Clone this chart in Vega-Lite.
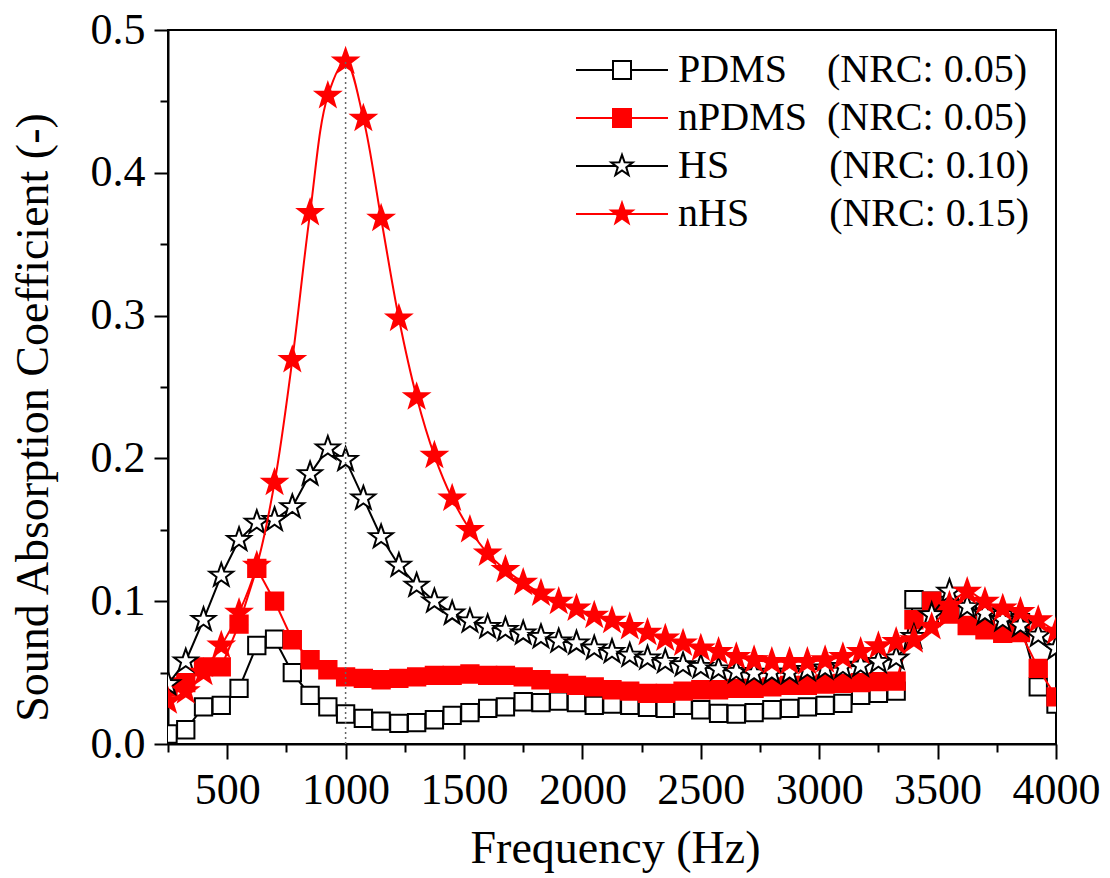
{
  "$schema": "https://vega.github.io/schema/vega-lite/v6.json",
  "width": 888,
  "height": 714,
  "autosize": {"type": "none"},
  "padding": {"left": 168, "top": 30, "right": 54, "bottom": 134},
  "background": "white",
  "config": {
    "view": {"stroke": "black", "strokeWidth": 2},
    "font": "Liberation Serif",
    "axis": {
      "domainColor": "black", "domainWidth": 2, "tickColor": "black", "tickWidth": 2,
      "labelColor": "black", "titleColor": "black",
      "labelFont": "Liberation Serif", "titleFont": "Liberation Serif",
      "labelFontSize": 44, "titleFontSize": 46, "titleFontWeight": "normal",
      "grid": false, "labelOverlap": false, "labelFlush": false
    },
    "legend": {
      "title": null, "orient": "none", "legendX": 434, "legendY": 20,
      "labelFont": "Liberation Serif", "labelFontSize": 40, "labelColor": "black",
      "labelLimit": 0, "labelOffset": 36, "rowPadding": 8, "padding": 0,
      "symbolSize": 400, "symbolStrokeWidth": 2
    }
  },
  "resolve": {"scale": {"shape": "independent", "fill": "independent", "stroke": "independent"}},
  "layer": [
    {
      "data": {"values": [
        {"f":250,"PDMS":0.007,"nPDMS":0.040,"HS":0.042,"nHS":0.030},
        {"f":325,"PDMS":0.010,"nPDMS":0.043,"HS":0.058,"nHS":0.037},
        {"f":400,"PDMS":0.026,"nPDMS":0.054,"HS":0.087,"nHS":0.050},
        {"f":475,"PDMS":0.027,"nPDMS":0.054,"HS":0.118,"nHS":0.069},
        {"f":550,"PDMS":0.039,"nPDMS":0.084,"HS":0.143,"nHS":0.092},
        {"f":625,"PDMS":0.069,"nPDMS":0.123,"HS":0.155,"nHS":0.125},
        {"f":700,"PDMS":0.0735,"nPDMS":0.100,"HS":0.157,"nHS":0.183},
        {"f":775,"PDMS":0.050,"nPDMS":0.073,"HS":0.166,"nHS":0.269},
        {"f":850,"PDMS":0.034,"nPDMS":0.059,"HS":0.189,"nHS":0.372},
        {"f":925,"PDMS":0.026,"nPDMS":0.052,"HS":0.207,"nHS":0.454},
        {"f":1000,"PDMS":0.021,"nPDMS":0.047,"HS":0.199,"nHS":0.478},
        {"f":1075,"PDMS":0.018,"nPDMS":0.046,"HS":0.172,"nHS":0.438},
        {"f":1150,"PDMS":0.016,"nPDMS":0.045,"HS":0.145,"nHS":0.368},
        {"f":1225,"PDMS":0.0145,"nPDMS":0.046,"HS":0.125,"nHS":0.298},
        {"f":1300,"PDMS":0.015,"nPDMS":0.047,"HS":0.111,"nHS":0.243},
        {"f":1375,"PDMS":0.017,"nPDMS":0.048,"HS":0.100,"nHS":0.202},
        {"f":1450,"PDMS":0.020,"nPDMS":0.048,"HS":0.0915,"nHS":0.172},
        {"f":1525,"PDMS":0.022,"nPDMS":0.049,"HS":0.086,"nHS":0.150},
        {"f":1600,"PDMS":0.025,"nPDMS":0.048,"HS":0.082,"nHS":0.1335},
        {"f":1675,"PDMS":0.026,"nPDMS":0.048,"HS":0.080,"nHS":0.122},
        {"f":1750,"PDMS":0.0296,"nPDMS":0.047,"HS":0.0775,"nHS":0.113},
        {"f":1825,"PDMS":0.029,"nPDMS":0.045,"HS":0.075,"nHS":0.1055},
        {"f":1900,"PDMS":0.030,"nPDMS":0.0425,"HS":0.072,"nHS":0.0997},
        {"f":1975,"PDMS":0.029,"nPDMS":0.041,"HS":0.0705,"nHS":0.095},
        {"f":2050,"PDMS":0.027,"nPDMS":0.040,"HS":0.067,"nHS":0.090},
        {"f":2125,"PDMS":0.028,"nPDMS":0.038,"HS":0.0646,"nHS":0.0864},
        {"f":2200,"PDMS":0.027,"nPDMS":0.037,"HS":0.062,"nHS":0.082},
        {"f":2275,"PDMS":0.0257,"nPDMS":0.0355,"HS":0.060,"nHS":0.078},
        {"f":2350,"PDMS":0.025,"nPDMS":0.0355,"HS":0.0576,"nHS":0.074},
        {"f":2425,"PDMS":0.027,"nPDMS":0.037,"HS":0.0553,"nHS":0.0705},
        {"f":2500,"PDMS":0.024,"nPDMS":0.038,"HS":0.054,"nHS":0.067},
        {"f":2575,"PDMS":0.0215,"nPDMS":0.038,"HS":0.0523,"nHS":0.0646},
        {"f":2650,"PDMS":0.021,"nPDMS":0.039,"HS":0.0506,"nHS":0.061},
        {"f":2725,"PDMS":0.022,"nPDMS":0.039,"HS":0.0495,"nHS":0.0588},
        {"f":2800,"PDMS":0.024,"nPDMS":0.040,"HS":0.050,"nHS":0.0576},
        {"f":2875,"PDMS":0.025,"nPDMS":0.041,"HS":0.050,"nHS":0.0576},
        {"f":2950,"PDMS":0.026,"nPDMS":0.041,"HS":0.052,"nHS":0.0576},
        {"f":3025,"PDMS":0.027,"nPDMS":0.042,"HS":0.053,"nHS":0.0588},
        {"f":3100,"PDMS":0.0285,"nPDMS":0.0425,"HS":0.054,"nHS":0.061},
        {"f":3175,"PDMS":0.034,"nPDMS":0.043,"HS":0.055,"nHS":0.0646},
        {"f":3250,"PDMS":0.0355,"nPDMS":0.0437,"HS":0.0576,"nHS":0.0686},
        {"f":3325,"PDMS":0.037,"nPDMS":0.044,"HS":0.060,"nHS":0.0716},
        {"f":3400,"PDMS":0.101,"nPDMS":0.087,"HS":0.075,"nHS":0.0728},
        {"f":3475,"PDMS":0.100,"nPDMS":0.100,"HS":0.0903,"nHS":0.082},
        {"f":3550,"PDMS":0.097,"nPDMS":0.091,"HS":0.1067,"nHS":0.097},
        {"f":3625,"PDMS":0.092,"nPDMS":0.083,"HS":0.096,"nHS":0.1067},
        {"f":3700,"PDMS":0.089,"nPDMS":0.080,"HS":0.0915,"nHS":0.0997},
        {"f":3775,"PDMS":0.087,"nPDMS":0.0775,"HS":0.0868,"nHS":0.095},
        {"f":3850,"PDMS":0.085,"nPDMS":0.078,"HS":0.083,"nHS":0.0926},
        {"f":3925,"PDMS":0.040,"nPDMS":0.053,"HS":0.076,"nHS":0.0868},
        {"f":4000,"PDMS":0.028,"nPDMS":0.033,"HS":0.067,"nHS":0.0787}
      ]},
      "transform": [{"fold": ["PDMS", "nPDMS", "HS", "nHS"], "as": ["s", "v"]}],
      "encoding": {
        "x": {
          "field": "f", "type": "quantitative",
          "scale": {"domain": [250, 4000], "nice": false, "zero": false},
          "axis": {
            "title": "Frequency (Hz)",
            "values": [250,500,750,1000,1250,1500,1750,2000,2250,2500,2750,3000,3250,3500,3750,4000],
            "labelExpr": "datum.value % 500 == 0 ? format(datum.value, 'd') : ''",
            "tickSize": {"condition": {"test": "datum.value % 500 == 0", "value": 15}, "value": 8},
            "labelPadding": 9,
            "titleX": 447, "titleY": 118, "titleBaseline": "alphabetic"
          }
        },
        "y": {
          "field": "v", "type": "quantitative",
          "scale": {"domain": [0, 0.5], "nice": false},
          "axis": {
            "title": "Sound Absorption Coefficient (-)",
            "values": [0,0.05,0.1,0.15,0.2,0.25,0.3,0.35,0.4,0.45,0.5],
            "labelExpr": "round(datum.value*20) % 2 == 0 ? format(datum.value, '.1f') : ''",
            "tickSize": {"condition": {"test": "round(datum.value*20) % 2 == 0", "value": 14}, "value": 8},
            "labelPadding": 9,
            "titleX": -121, "titleY": 387, "titleBaseline": "alphabetic"
          }
        }
      },
      "layer": [
        {
          "transform": [{"filter": "datum.s == 'PDMS'"}],
          "mark": {"type": "line", "stroke": "black", "strokeWidth": 2, "clip": true}
        },
        {
          "transform": [{"filter": "datum.s == 'PDMS'"}],
          "mark": {"type": "point", "size": 300, "strokeWidth": 2, "opacity": 1, "clip": true},
          "encoding": {
            "shape": {"field": "s", "type": "nominal", "legend": null, "scale": {"domain": ["PDMS", "nPDMS", "HS", "nHS"], "range": ["M-1,-1H1V1H-1Z", "M-1,-1H1V1H-1Z", "M0,-1L0.235,-0.324L0.951,-0.309L0.38,0.124L0.588,0.809L0,0.4L-0.588,0.809L-0.38,0.124L-0.951,-0.309L-0.235,-0.324Z", "M0,-1L0.235,-0.324L0.951,-0.309L0.38,0.124L0.588,0.809L0,0.4L-0.588,0.809L-0.38,0.124L-0.951,-0.309L-0.235,-0.324Z"]}},
            "fill": {"field": "s", "type": "nominal", "legend": null, "scale": {"domain": ["PDMS", "nPDMS", "HS", "nHS"], "range": ["white", "#ff0000", "white", "#ff0000"]}},
            "stroke": {"field": "s", "type": "nominal", "legend": null, "scale": {"domain": ["PDMS", "nPDMS", "HS", "nHS"], "range": ["black", "#ff0000", "black", "#ff0000"]}}
          }
        },
        {
          "transform": [{"filter": "datum.s == 'nPDMS'"}],
          "mark": {"type": "line", "stroke": "#ff0000", "strokeWidth": 2, "clip": true}
        },
        {
          "transform": [{"filter": "datum.s == 'nPDMS'"}],
          "mark": {"type": "point", "size": 300, "strokeWidth": 2, "opacity": 1, "clip": true},
          "encoding": {
            "shape": {"field": "s", "type": "nominal", "legend": null},
            "fill": {"field": "s", "type": "nominal", "legend": null},
            "stroke": {"field": "s", "type": "nominal", "legend": null}
          }
        },
        {
          "transform": [{"filter": "datum.s == 'HS'"}],
          "mark": {"type": "line", "stroke": "black", "strokeWidth": 2, "clip": true}
        },
        {
          "transform": [{"filter": "datum.s == 'HS'"}],
          "mark": {"type": "point", "size": 620, "strokeWidth": 2, "opacity": 1, "clip": true},
          "encoding": {
            "shape": {"field": "s", "type": "nominal", "legend": null},
            "fill": {"field": "s", "type": "nominal", "legend": null},
            "stroke": {"field": "s", "type": "nominal", "legend": null}
          }
        },
        {
          "transform": [{"filter": "datum.s == 'nHS'"}],
          "mark": {"type": "line", "stroke": "#ff0000", "strokeWidth": 2, "interpolate": "catmull-rom", "clip": true}
        },
        {
          "transform": [{"filter": "datum.s == 'nHS'"}],
          "mark": {"type": "point", "size": 640, "strokeWidth": 2, "opacity": 1, "clip": true},
          "encoding": {
            "shape": {"field": "s", "type": "nominal", "legend": null},
            "fill": {"field": "s", "type": "nominal", "legend": null},
            "stroke": {"field": "s", "type": "nominal", "legend": null}
          }
        }
      ]
    },
    {
      "data": {"values": [{}]},
      "mark": {"type": "rule", "stroke": "#666666", "strokeWidth": 1.5, "strokeDash": [2, 3]},
      "encoding": {
        "x": {"datum": 1000, "type": "quantitative"},
        "y": {"datum": 0, "type": "quantitative"},
        "y2": {"datum": 0.478}
      }
    },
    {
      "data": {"values": [{"s": "PDMS"}, {"s": "nPDMS"}, {"s": "HS"}, {"s": "nHS"}]},
      "transform": [{"filter": "false"}],
      "mark": {"type": "point", "strokeWidth": 2, "opacity": 1},
      "encoding": {
        "shape": {
          "field": "s", "type": "nominal",
          "scale": {"domain": ["PDMS", "nPDMS", "HS", "nHS"], "range": [
            "M-4.6,0H-0.9M0.9,0H4.6M-0.9,-0.9H0.9V0.9H-0.9Z",
            "M-4.6,0H-0.9M0.9,0H4.6M-0.9,-0.9H0.9V0.9H-0.9Z",
            "M-4.6,0H-0.62M0.62,0H4.6M0,-1.12L0.263,-0.363L1.065,-0.346L0.426,0.139L0.659,0.906L0,0.448L-0.659,0.906L-0.426,0.139L-1.065,-0.346L-0.263,-0.363Z",
            "M-4.6,0H-0.62M0.62,0H4.6M0,-1.12L0.263,-0.363L1.065,-0.346L0.426,0.139L0.659,0.906L0,0.448L-0.659,0.906L-0.426,0.139L-1.065,-0.346L-0.263,-0.363Z"
          ]},
          "legend": {
            "labelExpr": "datum.value == 'PDMS' ? 'PDMS\u00a0\u00a0\u00a0\u00a0(NRC: 0.05)' : datum.value == 'nPDMS' ? 'nPDMS\u00a0\u00a0(NRC: 0.05)' : datum.value == 'HS' ? 'HS\u00a0\u00a0\u00a0\u00a0\u00a0\u00a0\u00a0\u00a0\u00a0\u00a0(NRC: 0.10)' : 'nHS\u00a0\u00a0\u00a0\u00a0\u00a0\u00a0\u00a0\u00a0(NRC: 0.15)'"
          }
        },
        "fill": {"field": "s", "type": "nominal", "scale": {"domain": ["PDMS", "nPDMS", "HS", "nHS"], "range": ["white", "#ff0000", "white", "#ff0000"]},
          "legend": {
            "labelExpr": "datum.value == 'PDMS' ? 'PDMS\u00a0\u00a0\u00a0\u00a0(NRC: 0.05)' : datum.value == 'nPDMS' ? 'nPDMS\u00a0\u00a0(NRC: 0.05)' : datum.value == 'HS' ? 'HS\u00a0\u00a0\u00a0\u00a0\u00a0\u00a0\u00a0\u00a0\u00a0\u00a0(NRC: 0.10)' : 'nHS\u00a0\u00a0\u00a0\u00a0\u00a0\u00a0\u00a0\u00a0(NRC: 0.15)'"
          }
        },
        "stroke": {"field": "s", "type": "nominal", "scale": {"domain": ["PDMS", "nPDMS", "HS", "nHS"], "range": ["black", "#ff0000", "black", "#ff0000"]},
          "legend": {
            "labelExpr": "datum.value == 'PDMS' ? 'PDMS\u00a0\u00a0\u00a0\u00a0(NRC: 0.05)' : datum.value == 'nPDMS' ? 'nPDMS\u00a0\u00a0(NRC: 0.05)' : datum.value == 'HS' ? 'HS\u00a0\u00a0\u00a0\u00a0\u00a0\u00a0\u00a0\u00a0\u00a0\u00a0(NRC: 0.10)' : 'nHS\u00a0\u00a0\u00a0\u00a0\u00a0\u00a0\u00a0\u00a0(NRC: 0.15)'"
          }
        }
      }
    }
  ]
}
